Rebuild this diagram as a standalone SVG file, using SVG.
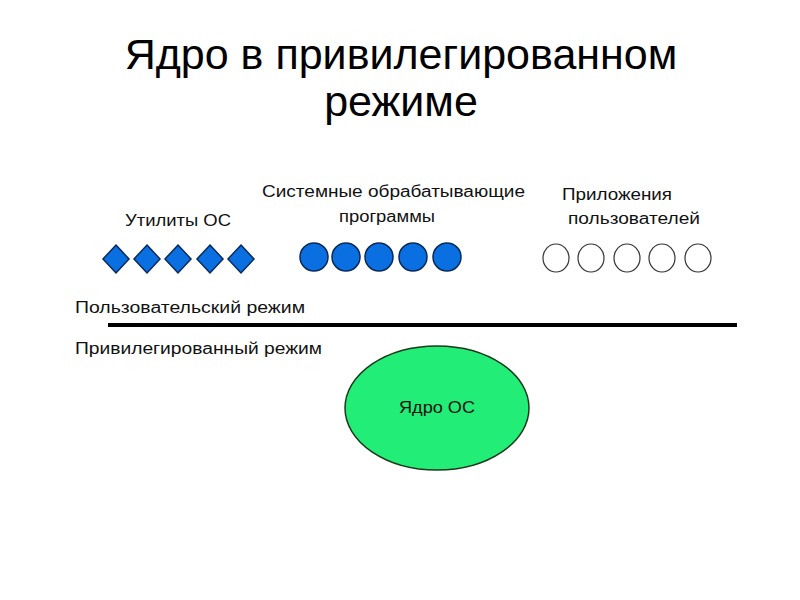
<svg xmlns="http://www.w3.org/2000/svg" width="800" height="600" viewBox="0 0 800 600">
<style>
.t{font-family:"Liberation Sans",Arial,sans-serif;fill:#000}
.title{font-size:43px}
.lbl{font-size:16px;fill:#111}
.dia{fill:#0a6fe0;stroke:#0a2a5a;stroke-width:1.5}
.bc{fill:#0a6fe0;stroke:#0a2a5a;stroke-width:1.5}
.wc{fill:#fff;stroke:#333;stroke-width:1.2}
</style>
<rect width="800" height="600" fill="#fff"/>
<g id="title">
<text class="t title" x="401" y="69" text-anchor="middle">Ядро в привилегированном</text>
<text class="t title" x="401" y="116" text-anchor="middle">режиме</text>
</g>
<g id="utilities">
<text class="t lbl" x="125" y="226" textLength="106" lengthAdjust="spacingAndGlyphs">Утилиты ОС</text>
<polygon class="dia" points="116,245 129,259 116,273 103,259"/>
<polygon class="dia" points="147,245 160,259 147,273 134,259"/>
<polygon class="dia" points="178,245 191,259 178,273 165,259"/>
<polygon class="dia" points="210,245 223,259 210,273 197,259"/>
<polygon class="dia" points="241,245 254,259 241,273 228,259"/>
</g>
<g id="system">
<text class="t lbl" x="262" y="197" textLength="263" lengthAdjust="spacingAndGlyphs">Системные обрабатывающие</text>
<text class="t lbl" x="339" y="222" textLength="96" lengthAdjust="spacingAndGlyphs">программы</text>
<ellipse class="bc" cx="314" cy="257" rx="14" ry="14"/>
<ellipse class="bc" cx="346" cy="257" rx="14" ry="14"/>
<ellipse class="bc" cx="379" cy="257" rx="14" ry="14"/>
<ellipse class="bc" cx="413" cy="257" rx="14" ry="14"/>
<ellipse class="bc" cx="447" cy="257" rx="14" ry="14"/>
</g>
<g id="apps">
<text class="t lbl" x="562" y="200" textLength="110" lengthAdjust="spacingAndGlyphs">Приложения</text>
<text class="t lbl" x="568" y="224" textLength="132" lengthAdjust="spacingAndGlyphs">пользователей</text>
<ellipse class="wc" cx="556" cy="258" rx="13" ry="14"/>
<ellipse class="wc" cx="591" cy="258" rx="13" ry="14"/>
<ellipse class="wc" cx="627" cy="258" rx="13" ry="14"/>
<ellipse class="wc" cx="662" cy="258" rx="13" ry="14"/>
<ellipse class="wc" cx="698" cy="258" rx="13" ry="14"/>
</g>
<g id="boundary">
<text class="t lbl" x="75" y="313" textLength="230" lengthAdjust="spacingAndGlyphs">Пользовательский режим</text>
<line x1="108" y1="325" x2="737" y2="325" stroke="#000" stroke-width="4"/>
<text class="t lbl" x="75" y="354" textLength="247" lengthAdjust="spacingAndGlyphs">Привилегированный режим</text>
</g>
<g id="kernel">
<ellipse cx="437" cy="408" rx="92" ry="62" fill="#22ee77" stroke="#1a3a1a" stroke-width="1.5"/>
<text class="t lbl" x="437" y="413" text-anchor="middle" textLength="76" lengthAdjust="spacingAndGlyphs">Ядро ОС</text>
</g>
</svg>
